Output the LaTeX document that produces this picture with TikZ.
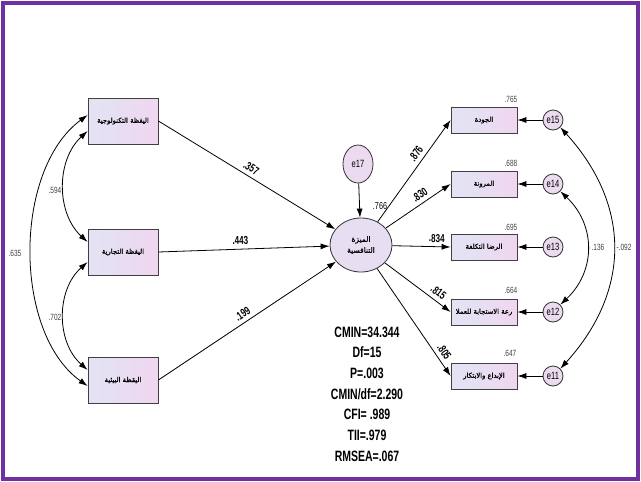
\documentclass[tikz,border=0pt]{standalone}
\usepackage{fontspec}
\setmainfont{Liberation Sans}
\TeXXeTstate=1
\newfontfamily\arabicfont[Script=Arabic,FakeBold=1.2]{DejaVu Sans}
\newfontfamily\narrowfont[FakeStretch=0.72]{Liberation Sans}
\newfontfamily\narrowbold[FakeStretch=0.7]{Liberation Sans Bold}
\usetikzlibrary{arrows.meta,shapes.geometric,calc}
\definecolor{framecol}{RGB}{112,48,160}
\definecolor{boxL}{RGB}{226,228,244}
\definecolor{boxR}{RGB}{240,214,240}
\definecolor{errfill}{RGB}{236,218,240}
\definecolor{latfill}{RGB}{232,222,242}
\tikzset{
 obs/.style={draw=black!75, line width=0.8pt, minimum width=66pt, minimum height=26pt,
   left color=boxL, right color=boxR, font=\arabicfont\fontsize{6.8}{7}\selectfont, inner sep=0pt},
 obsL/.style={obs, minimum width=70pt, minimum height=46pt},
 err/.style={circle, draw=black!80, line width=0.8pt, fill=errfill, minimum size=20pt,
   inner sep=0pt, font=\narrowfont\fontsize{10.5}{11}\selectfont},
 pth/.style={line width=0.8pt, -{Latex[length=9pt,width=6pt]}},
 cov/.style={line width=0.8pt, {Latex[length=9pt,width=6pt]}-{Latex[length=9pt,width=6pt]}},
 coef/.style={font=\narrowbold\fontsize{11.5}{12}\selectfont, inner sep=0pt, sloped, above=4pt},
 rsq/.style={font=\narrowfont\fontsize{9}{9}\selectfont, text=black!75, inner sep=0pt},
}
\begin{document}
\begin{tikzpicture}[x=1pt,y=-1pt]
\useasboundingbox (0,0) rectangle (641,482);
\fill[white] (0,0) rectangle (641,482);
\draw[framecol, line width=4pt] (3,3) rectangle (638,479);

% left observed
\node[obsL] (tech) at (123,121) {\beginR اليقظة التكنولوجية\endR};
\node[obsL] (comm) at (123,252) {\beginR اليقظة التجارية\endR};
\node[obsL] (env) at (123,380) {\beginR اليقظة البيئية\endR};

% latent
\node[ellipse, draw=black!80, line width=0.8pt, fill=latfill, minimum width=62pt, minimum height=54pt,
  inner sep=0pt, align=center, font=\arabicfont\fontsize{7.5}{11}\selectfont] (fac) at (361,245)
  {\beginR الميزة\endR\\\beginR التنافسية\endR};
\node[ellipse, draw=black!80, line width=0.8pt, fill=errfill, minimum width=30pt, minimum height=38pt,
  inner sep=0pt, font=\narrowfont\fontsize{10.5}{11}\selectfont] (e17) at (358,164) {e17};
\node[rsq, font=\narrowfont\fontsize{10}{10}\selectfont, text=black] (r17) at (380,206) {.766};

% right observed
\node[obs] (b1) at (484,120) {\beginR الجودة\endR};
\node[obs] (b2) at (484,184) {\beginR المرونة\endR};
\node[obs] (b3) at (484,247) {\beginR الرضا التكلفة\endR};
\node[obs] (b4) at (484,312) {\beginR رعة الاستجابة للعملا\endR};
\node[obs] (b5) at (484,376) {\beginR الإبداع والابتكار\endR};

\node[err] (e15) at (553,120) {e15};
\node[err] (e14) at (553,184) {e14};
\node[err] (e13) at (553,247) {e13};
\node[err] (e12) at (553,312) {e12};
\node[err] (e11) at (553,376) {e11};

% r squared
\node[rsq] (r1) at (511,99) {.765};
\node[rsq] (r2) at (511,163) {.688};
\node[rsq] (r3) at (511,227) {.695};
\node[rsq] (r4) at (511,290) {.664};
\node[rsq] (r5) at (510,353) {.647};

% paths with coefficients
\draw[pth] (tech.east) -- node[coef, pos=0.5] (c1) {.357} (fac);
\draw[pth] (comm.east) -- node[coef, pos=0.48] (c2) {.443} (fac);
\draw[pth] (env.east) -- node[coef, pos=0.5] (c3) {.199} (fac);
\draw[pth] (e17) -- (fac);
\draw[pth] (fac) -- node[coef, pos=0.62] (c4) {.876} (b1.west);
\draw[pth] (fac) -- node[coef, pos=0.6] (c5) {.830} (b2.west);
\draw[pth] (fac) -- node[coef, pos=0.76] (c6) {.834} (b3.west);
\draw[pth] (fac) -- node[coef, pos=0.74] (c7) {.815} (b4.west);
\draw[pth] (fac) -- node[coef, pos=0.82] (c8) {.805} (b5.west);
\draw[pth] (e15) -- (b1.east);
\draw[pth] (e14) -- (b2.east);
\draw[pth] (e13) -- (b3.east);
\draw[pth] (e12) -- (b4.east);
\draw[pth] (e11) -- (b5.east);

% left covariances
\draw[cov] ($(tech.west)+(0,10)$) .. controls (56,160) and (56,213) .. ($(comm.west)+(0,-10)$);
\draw[cov] ($(comm.west)+(0,10)$) .. controls (56,290) and (56,342) .. ($(env.west)+(0,-10)$);
\draw[cov] ($(tech.west)+(0,-6)$) .. controls (13,170) and (13,333) .. ($(env.west)+(0,6)$);
\node[rsq] (k1) at (55,190) {.594};
\node[rsq] (k2) at (55,317) {.702};
\node[rsq] (k3) at (15,253) {.635};

% right covariances
\draw[cov] (e15.south east) .. controls (631,205) and (631,291) .. (e11.north east);
\draw[cov] (e14.south east) .. controls (596,225) and (596,271) .. (e12.north east);
\node[rsq] (k4) at (598,247) {.136};
\node[rsq] (k5) at (624,247) {-.092};

% fit
\node[font=\narrowbold\fontsize{15}{20.7}\selectfont, align=center, inner sep=0pt] (fit) at (367,394)
 {CMIN=34.344\\Df=15\\P=.003\\CMIN/df=2.290\\CFI= .989\\TII=.979\\RMSEA=.067};
\end{tikzpicture}
\end{document}
